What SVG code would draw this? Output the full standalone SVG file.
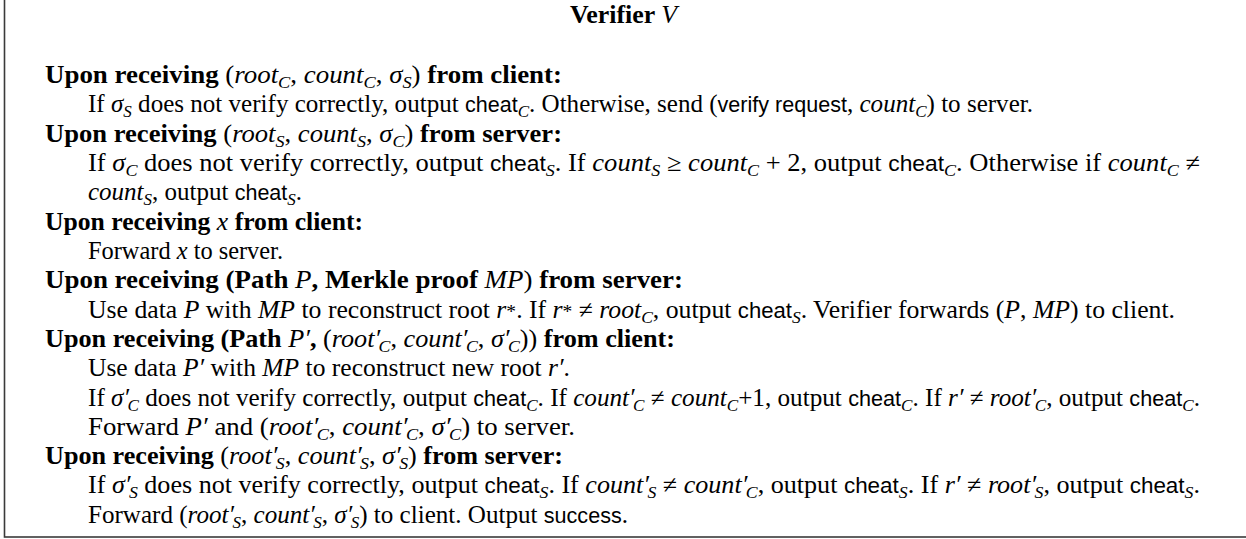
<svg xmlns="http://www.w3.org/2000/svg" width="1246" height="539" viewBox="0 0 1246 539">
  <style>
    .t { font-family: "Liberation Serif", serif; font-size: 25px; fill: #000; }
    .b { font-weight: bold; }
    .i { font-style: italic; }
    .f { font-family: "Liberation Sans", sans-serif; font-size: 21.5px; }
    .s { font-family: "Liberation Serif", serif; font-style: italic; font-size: 17px; }
    .frame { fill: none; stroke: #3a3a3a; stroke-width: 1.6; }
  </style>

  <!-- outer frame (continues past the top and right edges) -->
  <rect class="frame" x="4.5" y="-20" width="1320" height="557"/>

  <g id="title">
    <text class="t b" x="570" y="23" textLength="107" lengthAdjust="spacingAndGlyphs">Verifier <tspan class="i" font-weight="normal">V</tspan></text>
  </g>

  <g id="step-client-state">
    <text class="t" x="45" y="83" textLength="517" lengthAdjust="spacingAndGlyphs"><tspan class="b">Upon receiving </tspan>(<tspan class="i">root</tspan><tspan class="s" dy="5">C</tspan><tspan dy="-5">, </tspan><tspan class="i">count</tspan><tspan class="s" dy="5">C</tspan><tspan dy="-5">, </tspan><tspan class="i">σ</tspan><tspan class="s" dy="5">S</tspan><tspan dy="-5">) </tspan><tspan class="b">from client:</tspan></text>
    <text class="t" x="88" y="112" textLength="945" lengthAdjust="spacingAndGlyphs">If <tspan class="i">σ</tspan><tspan class="s" dy="5">S</tspan><tspan dy="-5"> does not verify correctly, output </tspan><tspan class="f">cheat</tspan><tspan class="s" dy="5">C</tspan><tspan dy="-5">. Otherwise, send (</tspan><tspan class="f">verify request</tspan>, <tspan class="i">count</tspan><tspan class="s" dy="5">C</tspan><tspan dy="-5">) to server.</tspan></text>
  </g>

  <g id="step-server-state">
    <text class="t" x="45" y="141.5" textLength="517" lengthAdjust="spacingAndGlyphs"><tspan class="b">Upon receiving </tspan>(<tspan class="i">root</tspan><tspan class="s" dy="5">S</tspan><tspan dy="-5">, </tspan><tspan class="i">count</tspan><tspan class="s" dy="5">S</tspan><tspan dy="-5">, </tspan><tspan class="i">σ</tspan><tspan class="s" dy="5">C</tspan><tspan dy="-5">) </tspan><tspan class="b">from server:</tspan></text>
    <text class="t" x="88" y="171" textLength="1112" lengthAdjust="spacingAndGlyphs">If <tspan class="i">σ</tspan><tspan class="s" dy="5">C</tspan><tspan dy="-5"> does not verify correctly, output </tspan><tspan class="f">cheat</tspan><tspan class="s" dy="5">S</tspan><tspan dy="-5">. If </tspan><tspan class="i">count</tspan><tspan class="s" dy="5">S</tspan><tspan dy="-5"> ≥ </tspan><tspan class="i">count</tspan><tspan class="s" dy="5">C</tspan><tspan dy="-5"> + 2, output </tspan><tspan class="f">cheat</tspan><tspan class="s" dy="5">C</tspan><tspan dy="-5">. Otherwise if </tspan><tspan class="i">count</tspan><tspan class="s" dy="5">C</tspan><tspan dy="-5"> ≠</tspan></text>
    <text class="t" x="88" y="200"><tspan class="i">count</tspan><tspan class="s" dy="5">S</tspan><tspan dy="-5">, output </tspan><tspan class="f">cheat</tspan><tspan class="s" dy="5">S</tspan><tspan dy="-5">.</tspan></text>
  </g>

  <g id="step-client-input">
    <text class="t" x="45" y="229.5" textLength="318" lengthAdjust="spacingAndGlyphs"><tspan class="b">Upon receiving </tspan><tspan class="i">x</tspan><tspan class="b"> from client:</tspan></text>
    <text class="t" x="88" y="259" textLength="195" lengthAdjust="spacingAndGlyphs">Forward <tspan class="i">x</tspan> to server.</text>
  </g>

  <g id="step-merkle-proof">
    <text class="t" x="45" y="288" textLength="638" lengthAdjust="spacingAndGlyphs"><tspan class="b">Upon receiving (Path </tspan><tspan class="i">P</tspan><tspan class="b">, Merkle proof </tspan><tspan class="i">MP</tspan>) <tspan class="b">from server:</tspan></text>
    <text class="t" x="88" y="317.5" textLength="1087" lengthAdjust="spacingAndGlyphs">Use data <tspan class="i">P</tspan> with <tspan class="i">MP</tspan> to reconstruct root <tspan class="i">r</tspan><tspan font-size="19">*</tspan>. If <tspan class="i">r</tspan><tspan font-size="19">*</tspan> ≠ <tspan class="i">root</tspan><tspan class="s" dy="5">C</tspan><tspan dy="-5">, output </tspan><tspan class="f">cheat</tspan><tspan class="s" dy="5">S</tspan><tspan dy="-5">. Verifier forwards (</tspan><tspan class="i">P</tspan>, <tspan class="i">MP</tspan>) to client.</text>
  </g>

  <g id="step-updated-path">
    <text class="t" x="45" y="347" textLength="630" lengthAdjust="spacingAndGlyphs"><tspan class="b">Upon receiving (Path </tspan><tspan class="i">P′</tspan><tspan class="b">, </tspan>(<tspan class="i">root′</tspan><tspan class="s" dx="-1.5" dy="5">C</tspan><tspan dy="-5">, </tspan><tspan class="i">count′</tspan><tspan class="s" dx="-1.5" dy="5">C</tspan><tspan dy="-5">, </tspan><tspan class="i">σ′</tspan><tspan class="s" dx="-1.5" dy="5">C</tspan><tspan dy="-5">)) </tspan><tspan class="b">from client:</tspan></text>
    <text class="t" x="88" y="376" textLength="482" lengthAdjust="spacingAndGlyphs">Use data <tspan class="i">P′</tspan> with <tspan class="i">MP</tspan> to reconstruct new root <tspan class="i">r′</tspan>.</text>
    <text class="t" x="88" y="405.5" textLength="1112" lengthAdjust="spacingAndGlyphs">If <tspan class="i">σ′</tspan><tspan class="s" dx="-1.5" dy="5">C</tspan><tspan dy="-5"> does not verify correctly, output </tspan><tspan class="f">cheat</tspan><tspan class="s" dy="5">C</tspan><tspan dy="-5">. If </tspan><tspan class="i">count′</tspan><tspan class="s" dx="-1.5" dy="5">C</tspan><tspan dy="-5"> ≠ </tspan><tspan class="i">count</tspan><tspan class="s" dy="5">C</tspan><tspan dy="-5">+1, output </tspan><tspan class="f">cheat</tspan><tspan class="s" dy="5">C</tspan><tspan dy="-5">. If </tspan><tspan class="i">r′</tspan> ≠ <tspan class="i">root′</tspan><tspan class="s" dx="-1.5" dy="5">C</tspan><tspan dy="-5">, output </tspan><tspan class="f">cheat</tspan><tspan class="s" dy="5">C</tspan><tspan dy="-5">.</tspan></text>
    <text class="t" x="88" y="435" textLength="487" lengthAdjust="spacingAndGlyphs">Forward <tspan class="i">P′</tspan> and (<tspan class="i">root′</tspan><tspan class="s" dx="-1.5" dy="5">C</tspan><tspan dy="-5">, </tspan><tspan class="i">count′</tspan><tspan class="s" dx="-1.5" dy="5">C</tspan><tspan dy="-5">, </tspan><tspan class="i">σ′</tspan><tspan class="s" dx="-1.5" dy="5">C</tspan><tspan dy="-5">) to server.</tspan></text>
  </g>

  <g id="step-server-commit">
    <text class="t" x="45" y="464" textLength="518" lengthAdjust="spacingAndGlyphs"><tspan class="b">Upon receiving </tspan>(<tspan class="i">root′</tspan><tspan class="s" dx="-1.5" dy="5">S</tspan><tspan dy="-5">, </tspan><tspan class="i">count′</tspan><tspan class="s" dx="-1.5" dy="5">S</tspan><tspan dy="-5">, </tspan><tspan class="i">σ′</tspan><tspan class="s" dx="-1.5" dy="5">S</tspan><tspan dy="-5">) </tspan><tspan class="b">from server:</tspan></text>
    <text class="t" x="88" y="493" textLength="1112" lengthAdjust="spacingAndGlyphs">If <tspan class="i">σ′</tspan><tspan class="s" dx="-1.5" dy="5">S</tspan><tspan dy="-5"> does not verify correctly, output </tspan><tspan class="f">cheat</tspan><tspan class="s" dy="5">S</tspan><tspan dy="-5">. If </tspan><tspan class="i">count′</tspan><tspan class="s" dx="-1.5" dy="5">S</tspan><tspan dy="-5"> ≠ </tspan><tspan class="i">count′</tspan><tspan class="s" dx="-1.5" dy="5">C</tspan><tspan dy="-5">, output </tspan><tspan class="f">cheat</tspan><tspan class="s" dy="5">S</tspan><tspan dy="-5">. If </tspan><tspan class="i">r′</tspan> ≠ <tspan class="i">root′</tspan><tspan class="s" dx="-1.5" dy="5">S</tspan><tspan dy="-5">, output </tspan><tspan class="f">cheat</tspan><tspan class="s" dy="5">S</tspan><tspan dy="-5">.</tspan></text>
    <text class="t" x="88" y="522.5" textLength="540" lengthAdjust="spacingAndGlyphs">Forward (<tspan class="i">root′</tspan><tspan class="s" dx="-1.5" dy="5">S</tspan><tspan dy="-5">, </tspan><tspan class="i">count′</tspan><tspan class="s" dx="-1.5" dy="5">S</tspan><tspan dy="-5">, </tspan><tspan class="i">σ′</tspan><tspan class="s" dx="-1.5" dy="5">S</tspan><tspan dy="-5">) to client. Output </tspan><tspan class="f">success</tspan>.</text>
  </g>
</svg>
